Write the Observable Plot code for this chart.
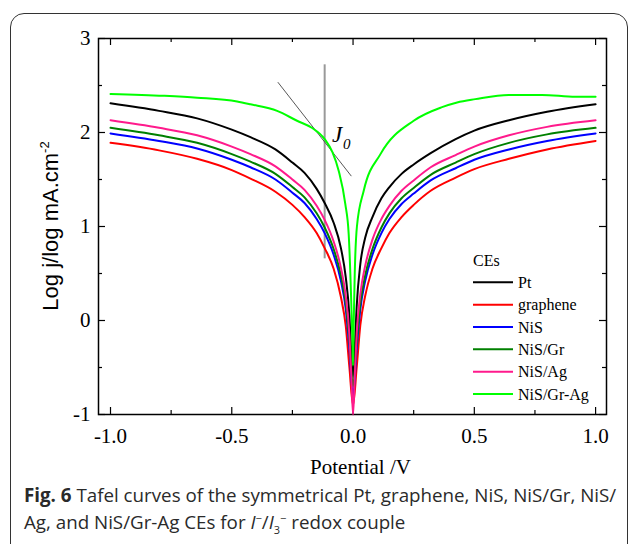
<!DOCTYPE html>
<html><head><meta charset="utf-8">
<script src="https://cdn.jsdelivr.net/npm/d3@7"></script>
<script src="https://cdn.jsdelivr.net/npm/@observablehq/plot@0.6"></script>
<style>
body{margin:0;background:#fff;}
#wrap{position:relative;width:629px;height:544px;overflow:hidden;background:#fff;}
#box{position:absolute;left:10px;top:13px;width:618px;height:600px;border:1.5px solid #333;border-radius:14px;box-sizing:border-box;}
#chart{position:absolute;left:0;top:0;}
#cap{position:absolute;left:24px;top:481px;font-family:"Open Sans";font-size:18.75px;line-height:27px;color:#2a2a2a;white-space:nowrap;}
#cap sup,#cap sub{font-size:11px;line-height:0;}
</style></head><body>
<div id="wrap"><div id="box"></div><div id="chart"></div>
<div id="cap"><b>Fig. 6</b> Tafel curves of the symmetrical Pt, graphene, NiS, NiS/Gr, NiS/<br>Ag, and NiS/Gr-Ag CEs for <i>I</i><sup>−</sup>/<i>I</i><sub>3</sub><sup>−</sup> redox couple</div>
</div>
<script>
const seriesNames = ["Pt", "graphene", "NiS", "NiS/Gr", "NiS/Ag", "NiS/Gr-Ag"];
const seriesColors = ["#000000", "#ff0000", "#0000ff", "#008000", "#ff1a8c", "#00ff00"];

const pt = [[-1,2.31],[-0.8,2.23],[-0.643,2.15],[-0.5,2.03],[-0.423,1.95],[-0.32,1.82],[-0.25,1.68],[-0.2,1.57],[-0.15,1.40],[-0.117,1.25],[-0.08,1.04],[-0.05,0.77],[-0.03,0.46],[-0.015,0.05],[-0.007,-0.35],[0,-0.6],[0.007,-0.3],[0.015,0.15],[0.03,0.6],[0.05,0.88],[0.08,1.1],[0.117,1.3],[0.15,1.42],[0.2,1.56],[0.25,1.66],[0.32,1.78],[0.423,1.93],[0.5,2.02],[0.643,2.13],[0.8,2.22],[1,2.30]];
const graphene = [[-1,1.89],[-0.8,1.81],[-0.643,1.72],[-0.5,1.60],[-0.423,1.51],[-0.32,1.37],[-0.25,1.23],[-0.2,1.10],[-0.15,0.93],[-0.117,0.77],[-0.08,0.55],[-0.05,0.25],[-0.03,-0.06],[-0.015,-0.5],[0,-0.9],[0.015,-0.5],[0.03,-0.05],[0.05,0.26],[0.08,0.55],[0.117,0.77],[0.15,0.93],[0.2,1.10],[0.25,1.23],[0.32,1.38],[0.423,1.52],[0.5,1.61],[0.643,1.72],[0.8,1.82],[1,1.91]];
const nis = [[-1,1.99],[-0.8,1.91],[-0.643,1.83],[-0.5,1.71],[-0.423,1.63],[-0.32,1.50],[-0.25,1.36],[-0.2,1.25],[-0.15,1.08],[-0.117,0.93],[-0.08,0.70],[-0.05,0.42],[-0.03,0.12],[-0.015,-0.3],[0,-0.8],[0.015,-0.3],[0.03,0.12],[0.05,0.42],[0.08,0.70],[0.117,0.93],[0.15,1.08],[0.2,1.24],[0.25,1.35],[0.32,1.49],[0.423,1.62],[0.5,1.71],[0.643,1.82],[0.8,1.91],[1,1.99]];
const nisGr = [[-1,2.05],[-0.8,1.97],[-0.643,1.89],[-0.5,1.77],[-0.423,1.69],[-0.32,1.56],[-0.25,1.42],[-0.2,1.31],[-0.15,1.14],[-0.117,0.99],[-0.08,0.76],[-0.05,0.48],[-0.03,0.18],[-0.015,-0.22],[0,-0.7],[0.015,-0.22],[0.03,0.18],[0.05,0.48],[0.08,0.76],[0.117,0.99],[0.15,1.14],[0.2,1.30],[0.25,1.41],[0.32,1.55],[0.423,1.68],[0.5,1.77],[0.643,1.89],[0.8,1.98],[1,2.05]];
const nisAg = [[-1,2.13],[-0.8,2.05],[-0.643,1.97],[-0.5,1.85],[-0.423,1.77],[-0.32,1.64],[-0.25,1.50],[-0.2,1.39],[-0.15,1.22],[-0.117,1.07],[-0.08,0.84],[-0.05,0.56],[-0.03,0.26],[-0.015,-0.16],[-0.007,-0.6],[0,-1],[0.007,-0.6],[0.015,-0.14],[0.03,0.28],[0.05,0.58],[0.08,0.86],[0.117,1.08],[0.15,1.22],[0.2,1.38],[0.25,1.49],[0.32,1.63],[0.423,1.76],[0.5,1.85],[0.643,1.97],[0.8,2.06],[1,2.13]];
const nisGrAg = [[-1,2.41],[-0.78,2.39],[-0.643,2.37],[-0.478,2.33],[-0.423,2.30],[-0.313,2.23],[-0.231,2.125],[-0.17,2.05],[-0.117,1.93],[-0.085,1.79],[-0.059,1.59],[-0.032,1.24],[-0.018,0.92],[-0.008,0.25],[-0.003,-0.2],[0,-0.48],[0.003,0],[0.007,0.5],[0.016,1.0],[0.044,1.38],[0.113,1.77],[0.25,2.125],[0.367,2.27],[0.429,2.32],[0.504,2.355],[0.642,2.40],[0.779,2.40],[0.917,2.38],[1,2.38]];
const seriesData = [pt, graphene, nis, nisGr, nisAg, nisGrAg];

const xTicks = [-1, -0.5, 0, 0.5, 1];
const xMinor = [-0.75, -0.25, 0.25, 0.75];
const yTicks = [-1, 0, 1, 2, 3];
const yMinor = [-0.5, 0.5, 1.5, 2.5];

// J0 annotation: vertical marker line and tangent line
const markerLine = [{x: -0.117, y1: 0.656, y2: 2.72}];
const tangentLine = [[-0.309, 2.532], [-0.008, 1.539]];
const j0Label = [{x: -0.087, y: 1.90}];

const W = 629, H = 480, mL = 98, mR = 23, mT = 38, mB = 66;
const fw = W - mL - mR, fh = H - mT - mB;

const marks = [
  Plot.frame({stroke: "#000", strokeWidth: 1.5}),
  Plot.tickX(xTicks, {x: d => d, insetTop: fh - 7, stroke: "#000", strokeWidth: 1.2}),
  Plot.tickX(xTicks, {x: d => d, insetBottom: fh - 7, stroke: "#000", strokeWidth: 1.2}),
  Plot.tickX(xMinor, {x: d => d, insetTop: fh - 4, stroke: "#000", strokeWidth: 1.2}),
  Plot.tickX(xMinor, {x: d => d, insetBottom: fh - 4, stroke: "#000", strokeWidth: 1.2}),
  Plot.tickY(yTicks, {y: d => d, insetRight: fw - 7, stroke: "#000", strokeWidth: 1.2}),
  Plot.tickY(yTicks, {y: d => d, insetLeft: fw - 7, stroke: "#000", strokeWidth: 1.2}),
  Plot.tickY(yMinor, {y: d => d, insetRight: fw - 4, stroke: "#000", strokeWidth: 1.2}),
  Plot.tickY(yMinor, {y: d => d, insetLeft: fw - 4, stroke: "#000", strokeWidth: 1.2}),
  Plot.axisX({ticks: xTicks, tickSize: 0, tickPadding: 14, tickFormat: d => d.toFixed(1), label: null, fontSize: 21}),
  Plot.axisY({ticks: yTicks, tickSize: 0, tickPadding: 8, tickFormat: d => String(d), label: null, fontSize: 21}),
  Plot.ruleX(markerLine, {x: "x", y1: "y1", y2: "y2", stroke: "#999", strokeWidth: 2}),
  Plot.line(tangentLine, {x: d => d[0], y: d => d[1], stroke: "#444", strokeWidth: 0.9}),
];
seriesData.forEach((s, i) => {
  marks.push(Plot.line(s, {x: d => d[0], y: d => d[1], stroke: seriesColors[i], strokeWidth: 2, curve: "monotone-x"}));
});
marks.push(
  Plot.text(j0Label, {x: "x", y: "y", text: () => "J", fontStyle: "italic", fontSize: 23, textAnchor: "start", lineAnchor: "bottom"}),
  Plot.text(j0Label, {x: "x", y: "y", text: () => "0", fontStyle: "italic", fontSize: 15, textAnchor: "start", lineAnchor: "bottom", dx: 11, dy: 7}),
  Plot.text(["Potential /V"], {frameAnchor: "bottom", text: d => d, dy: 53, dx: 8, fontSize: 21, lineAnchor: "middle"})
);

const plot = Plot.plot({
  width: W, height: H,
  marginLeft: mL, marginRight: mR, marginTop: mT, marginBottom: mB,
  x: {domain: [-1.0495, 1.045]},
  y: {domain: [-1, 3]},
  style: {fontFamily: "Liberation Serif", background: "transparent", color: "#000", overflow: "visible"},
  marks
});
document.getElementById("chart").append(plot);

const svg = d3.select(plot);
// Y axis title with superscript
const yt = svg.append("text")
  .attr("transform", "translate(58,226) rotate(-90)")
  .attr("text-anchor", "middle")
  .attr("font-family", "Liberation Sans")
  .attr("font-size", 22)
  .attr("fill", "#000");
yt.append("tspan").text("Log j/log mA.cm");
yt.append("tspan").attr("dy", -9).attr("font-size", 13).text("-2");

// Legend
const lg = svg.append("g").attr("font-family", "Liberation Serif").attr("font-size", 16).attr("fill", "#000").attr("text-anchor", "start");
lg.append("text").attr("x", 473).attr("y", 266).text("CEs");
seriesNames.forEach((n, i) => {
  const y = 282.3 + i * 22.35;
  lg.append("line").attr("x1", 473).attr("x2", 513).attr("y1", y).attr("y2", y).attr("stroke", seriesColors[i]).attr("stroke-width", 2);
  lg.append("text").attr("x", 518).attr("y", y + 5.5).text(n);
});
</script>
</body></html>
